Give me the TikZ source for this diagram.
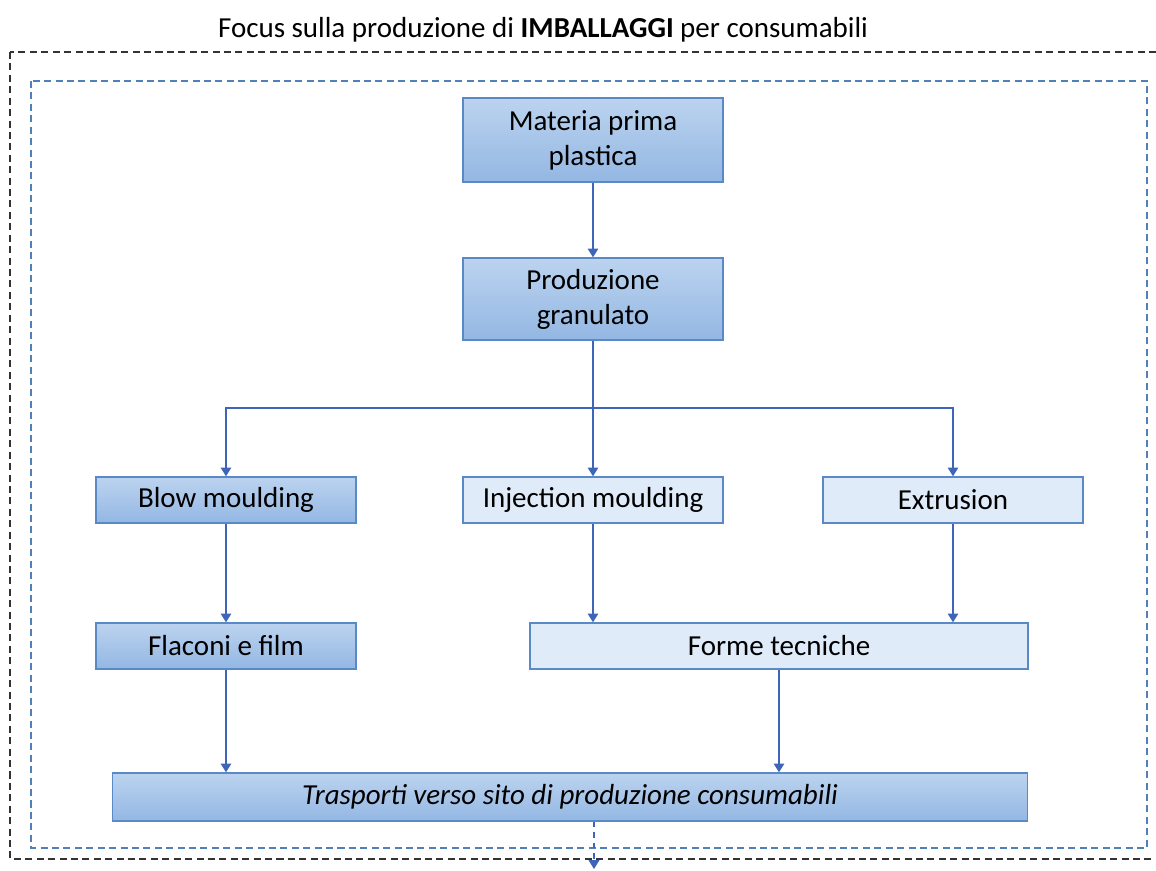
\documentclass[tikz,border=0pt]{standalone}
\usepackage{fontspec}
\setmainfont{Carlito}
\usepackage{tikz}
\usetikzlibrary{arrows.meta, calc, positioning}

\definecolor{boxtop}{HTML}{BCD3EF}
\definecolor{boxbottom}{HTML}{93B7E3}
\definecolor{boxlight}{HTML}{DFEBF8}
\definecolor{boxline}{HTML}{5A8AC6}
\definecolor{arrowblue}{HTML}{3E66B8}
\definecolor{frameblue}{HTML}{4F80B8}
\definecolor{framedark}{HTML}{333333}

\tikzset{
  boxbase/.style={draw=boxline, line width=0.8pt, inner sep=0pt, align=center,
    minimum width=5.2cm, minimum height=0.92cm, font=\fontsize{16.5}{20}\selectfont},
  darkbox/.style={boxbase, top color=boxtop, bottom color=boxbottom},
  lightbox/.style={boxbase, fill=boxlight},
  flow/.style={draw=arrowblue, line width=0.8pt, -{Triangle[length=5pt, width=6pt]}}
}

\begin{document}
\begin{tikzpicture}[x=0.02cm, y=-0.02cm]

  \useasboundingbox (0,0) rectangle (1156,870);

  \coordinate (split) at (593,408);
  \coordinate (out) at (594,869);

  \draw[framedark, dashed, line width=1.1pt, dash pattern=on 4pt off 2.5pt] (10,52) rectangle (1175,859);
  \draw[frameblue, dashed, line width=0.8pt, dash pattern=on 4pt off 2.5pt] (31,81) rectangle (1147,848);

  \node (title) at (543,30) {\fontsize{16.5}{20}\selectfont Focus sulla produzione di \textbf{IMBALLAGGI} per consumabili};

  \node[darkbox, minimum height=1.68cm] (materia) at (593,140) {Materia prima\\plastica};
  \node[darkbox, minimum height=1.64cm] (granulato) at (593,299) {Produzione\\granulato};

  \node[darkbox] (blow) at (226,500) {Blow moulding};
  \node[lightbox] (injection) at (593,500) {Injection moulding};
  \node[lightbox] (extrusion) at (953,500) {Extrusion};

  \node[darkbox] (flaconi) at (226,646) {Flaconi e film};
  \node[lightbox, minimum width=9.96cm] (forme) at (779,646) {Forme tecniche};

  \node[darkbox, minimum width=18.3cm, minimum height=0.96cm] (trasporti) at (570,797) {\itshape Trasporti verso sito di produzione consumabili};

  \draw[flow] (materia) -- (granulato);
  \draw[flow] (granulato) -- (injection);
  \draw[flow] (split) -| (blow.north);
  \draw[flow] (split) -| (extrusion.north);

  \draw[flow] (blow) -- (flaconi);
  \draw[flow] (injection.south) -- (injection.south |- forme.north);
  \draw[flow] (extrusion.south) -- (extrusion.south |- forme.north);

  \draw[flow] (flaconi.south) -- (flaconi.south |- trasporti.north);
  \draw[flow] (forme.south) -- (forme.south |- trasporti.north);
  \draw[flow, dashed] (trasporti.south -| out) -- (out);

\end{tikzpicture}
\end{document}
